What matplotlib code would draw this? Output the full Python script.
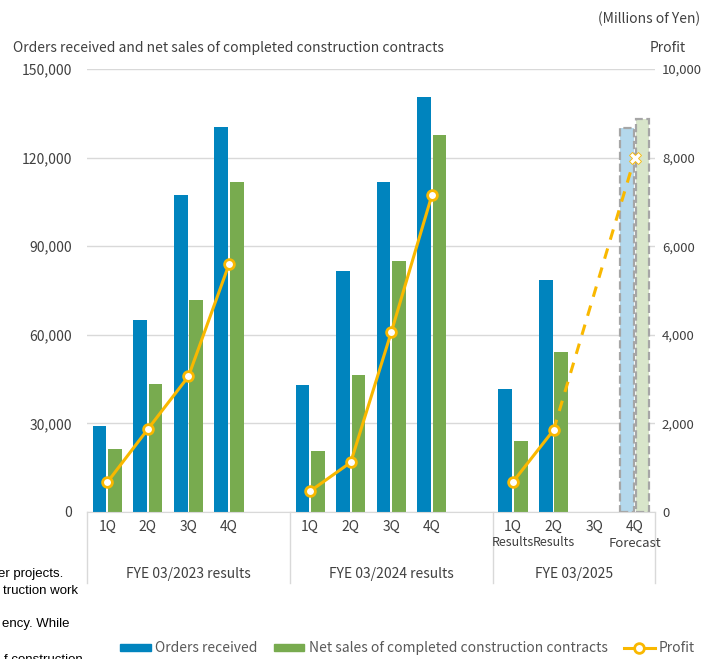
import numpy as np
import matplotlib
matplotlib.use("Agg")
import matplotlib.pyplot as plt
from matplotlib.patches import Patch
from matplotlib.lines import Line2D

plt.rcParams['font.family'] = ['Noto Sans CJK JP', 'DejaVu Sans']

# data (millions of yen)
quarters = ['1Q', '2Q', '3Q', '4Q']
groups = ['FYE 03/2023 results', 'FYE 03/2024 results', 'FYE 03/2025']
orders = [29000, 65000, 107500, 130300,
          43100, 81600, 111600, 140600,
          41600, 78500, None, None]
sales = [21200, 43200, 71800, 111800,
         20600, 46300, 85000, 127500,
         24100, 54100, None, None]
profit = [670, 1870, 3060, 5590,
          470, 1120, 4060, 7150,
          680, 1850, None, None]
fc_orders = 130000
fc_sales = 133000
fc_profit = 8000
sub_labels = {8: 'Results', 9: 'Results'}

# slot positions: 4 quarters + 1 empty slot between fiscal years
pos = [0, 1, 2, 3, 5, 6, 7, 8, 10, 11, 12, 13]

c_blue = '#0084BE'
c_green = '#78AB4F'
c_gold = '#F9B800'
c_text = '#404040'
c_grid = '#D9D9D9'

fig = plt.figure(figsize=(7.05, 6.59), dpi=100)
ax = fig.add_axes([0.1234, 0.2231, 0.8057, 0.6722])
ax2 = ax.twinx()

w = 0.34
off = 0.19
for p, o, s in zip(pos, orders, sales):
    if o is not None:
        ax.bar(p - off, o, w, color=c_blue, zorder=2)
        ax.bar(p + off, s, w, color=c_green, zorder=2)

# forecast bars
fp = pos[-1]
ax.bar(fp - off, fc_orders, w, color='#B4D8EC', edgecolor='#A6A6A6',
       linestyle='--', linewidth=1.6, zorder=2)
ax.bar(fp + off, fc_sales, w, color='#D8E5CA', edgecolor='#A6A6A6',
       linestyle='--', linewidth=1.6, zorder=2)

ax.set_xlim(-0.5, 13.5)
ax.set_ylim(0, 150000)
ax.set_yticks(np.arange(0, 150001, 30000))
ax.yaxis.set_major_formatter(matplotlib.ticker.FuncFormatter(lambda v, _: f'{int(v):,}'))
ax.grid(axis='y', color=c_grid, linewidth=1, zorder=0)
ax.set_axisbelow(True)
for sp in ['top', 'left', 'right']:
    ax.spines[sp].set_visible(False)
    ax2.spines[sp].set_visible(False)
ax.spines['bottom'].set_color(c_grid)
ax2.spines['bottom'].set_visible(False)
ax.tick_params(axis='y', length=0, pad=11, labelsize=10, labelcolor=c_text)

ax2.set_ylim(0, 10000)
ax2.set_yticks(np.arange(0, 10001, 2000))
ax2.yaxis.set_major_formatter(matplotlib.ticker.FuncFormatter(lambda v, _: f'{int(v):,}'))
ax2.tick_params(axis='y', length=0, pad=5, labelsize=9.5, labelcolor=c_text)

# profit line
px = [p for p, v in zip(pos, profit) if v is not None]
py = [v for v in profit if v is not None]
for k in range(3):
    ax2.plot(px[4*k:4*k+4], py[4*k:4*k+4], color=c_gold, linewidth=2.2,
             marker='o', markersize=7, markerfacecolor='white',
             markeredgecolor=c_gold, markeredgewidth=2, zorder=3)
ax2.plot([px[-1], fp], [py[-1], fc_profit], color=c_gold, linewidth=2.2,
         linestyle=(0, (3.5, 3)), zorder=2)
ax2.plot([fp], [fc_profit], marker='X', markersize=8, color='white',
         markeredgecolor=c_gold, markeredgewidth=0.6, zorder=4)

# x labels
ax.set_xticks(pos)
ax.set_xticklabels(quarters * 3)
ax.tick_params(axis='x', length=0, pad=6, labelsize=10, labelcolor=c_text)
trans = ax.get_xaxis_transform()
for i, lab in sub_labels.items():
    ax.text(pos[i], -0.068, lab, transform=trans, ha='center', va='center',
            fontsize=9, color=c_text)
ax.text(fp, -0.072, 'Forecast', transform=trans, ha='center', va='center',
        fontsize=9.5, color=c_text)

bounds = [-0.5, 4.5, 9.5, 13.5]
for b in bounds:
    ax.plot([b, b], [0, -0.16], transform=trans, color=c_grid, linewidth=1,
            clip_on=False)
for g, a, b in zip(groups, bounds[:-1], bounds[1:]):
    ax.text((a + b) / 2, -0.14, g, transform=trans, ha='center', va='center',
            fontsize=10, color=c_text)

# titles
fig.text(0.993, 0.971, '(Millions of Yen)', ha='right', va='center',
         fontsize=10, color=c_text)
fig.text(0.018, 0.927, 'Orders received and net sales of completed construction contracts',
         ha='left', va='center', fontsize=10, color=c_text)
fig.text(0.972, 0.927, 'Profit', ha='right', va='center', fontsize=10, color=c_text)

# cut-off page text at the left edge
side = [('er projects.', 0.090, 0.129), ('truction work', 0.111, 0.103),
        ('ency. While', 0.098, 0.053), ('f construction', 0.118, -0.002)]
for t, x, y in side:
    fig.text(x, y, t, ha='right', va='center', fontsize=9.5,
             family='Liberation Sans', color='black')

# legend
handles = [Patch(color=c_blue), Patch(color=c_green),
           Line2D([], [], color=c_gold, linewidth=2.2, marker='o', markersize=7,
                  markerfacecolor='white', markeredgewidth=2)]
labels = ['Orders received', 'Net sales of completed construction contracts', 'Profit']
fig.legend(handles, labels, loc='center', bbox_to_anchor=(0.578, 0.016), ncol=3,
           frameon=False, fontsize=10, labelcolor='#595959', handlelength=2.2,
           handleheight=0.45, handletextpad=0.3, columnspacing=1.2)

fig.savefig('out.png', dpi=100)
